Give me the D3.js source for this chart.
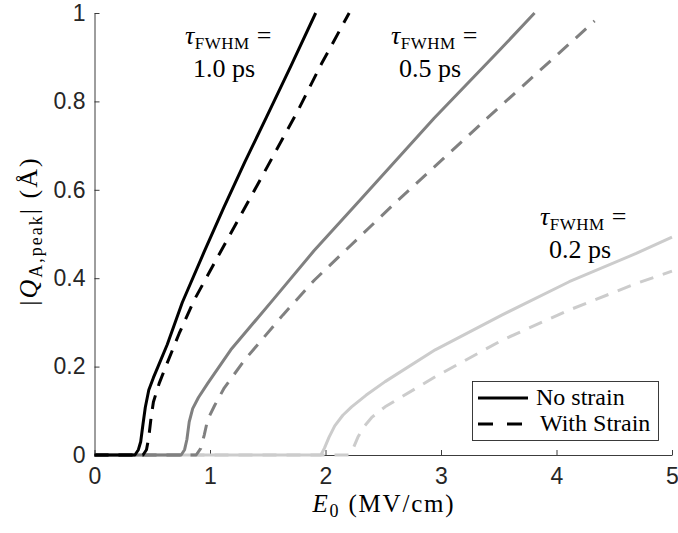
<!DOCTYPE html>
<html>
<head>
<meta charset="utf-8">
<script src="https://cdn.jsdelivr.net/npm/d3@7"></script>
<style>
  body { margin: 0; background: #fff; }
  svg { display: block; }
</style>
</head>
<body>
<script>
// ---------- DATA ----------
const xTicks = [0, 1, 2, 3, 4, 5];
const yTicks = [0, 0.2, 0.4, 0.6, 0.8, 1];
const yTickLabels = ["0", "0.2", "0.4", "0.6", "0.8", "1"];
const legendLabels = ["No strain", "With Strain"];
const pulseLabels = ["1.0 ps", "0.5 ps", "0.2 ps"];

// tau = 1.0 ps
const e10NoStrain = [0, 0.35, 0.38, 0.40, 0.42, 0.44, 0.47, 0.51, 0.55, 0.63, 0.76, 0.95, 1.12, 1.30, 1.49, 1.70, 1.915];
const q10NoStrain = [0, 0, 0.012, 0.03, 0.07, 0.108, 0.147, 0.175, 0.20, 0.25, 0.345, 0.46, 0.56, 0.662, 0.765, 0.88, 1.0];
const e10Strain = [0, 0.42, 0.45, 0.47, 0.49, 0.51, 0.56, 0.617, 0.733, 0.864, 1.05, 1.25, 1.45, 1.763, 1.965, 2.205];
const q10Strain = [0, 0, 0.012, 0.04, 0.085, 0.12, 0.162, 0.20, 0.275, 0.351, 0.44, 0.535, 0.63, 0.78, 0.885, 1.0];
// tau = 0.5 ps
const e05NoStrain = [0, 0.75, 0.78, 0.80, 0.82, 0.85, 0.90, 0.98, 1.18, 1.545, 1.90, 2.30, 2.94, 3.50, 3.81];
const q05NoStrain = [0, 0, 0.012, 0.035, 0.075, 0.105, 0.13, 0.162, 0.238, 0.351, 0.462, 0.577, 0.762, 0.914, 1.0];
const e05Strain = [0, 0.88, 0.92, 0.95, 0.98, 1.04, 1.124, 1.30, 1.632, 1.905, 2.63, 3.40, 4.33];
const q05Strain = [0, 0, 0.015, 0.045, 0.08, 0.112, 0.152, 0.215, 0.317, 0.396, 0.577, 0.762, 0.982];
// tau = 0.2 ps
const e02NoStrain = [0, 1.96, 1.99, 2.03, 2.08, 2.15, 2.226, 2.35, 2.516, 2.95, 3.53, 4.11, 4.69, 5.0];
const q02NoStrain = [0, 0, 0.015, 0.04, 0.066, 0.09, 0.109, 0.135, 0.166, 0.238, 0.317, 0.392, 0.456, 0.493];
const e02Strain = [0, 2.20, 2.24, 2.28, 2.33, 2.40, 2.516, 2.95, 3.53, 4.11, 4.69, 5.0];
const q02Strain = [0, 0, 0.015, 0.04, 0.063, 0.085, 0.109, 0.177, 0.26, 0.328, 0.388, 0.416];

// ---------- SETUP ----------
const W = 678, H = 533;
const SERIF = "Liberation Serif";
const SANS = "Liberation Sans";
const svg = d3.select("body").append("svg").attr("width", W).attr("height", H);
const x = d3.scaleLinear().domain([0, 5]).range([94.5, 672]);
const y = d3.scaleLinear().domain([0, 1]).range([455, 13]);

const colors = { "1.0": "#000000", "0.5": "#808080", "0.2": "#cccccc" };
const dash = "14,10";

const series = [
  { e: e02Strain, q: q02Strain, c: colors["0.2"], dashed: true },
  { e: e02NoStrain, q: q02NoStrain, c: colors["0.2"], dashed: false },
  { e: e05Strain, q: q05Strain, c: colors["0.5"], dashed: true },
  { e: e05NoStrain, q: q05NoStrain, c: colors["0.5"], dashed: false },
  { e: e10Strain, q: q10Strain, c: colors["1.0"], dashed: true },
  { e: e10NoStrain, q: q10NoStrain, c: colors["1.0"], dashed: false }
];

const line = d3.line().x(d => x(d[0])).y(d => y(d[1]));

// ---------- AXES ----------
const axisColor = "#262626";
const xAxis = svg.append("g").attr("transform", `translate(0,${y(0)})`)
  .call(d3.axisBottom(x).tickValues(xTicks).tickFormat(d3.format("d"))
    .tickSizeInner(-5).tickSizeOuter(0).tickPadding(13));
const yAxis = svg.append("g").attr("transform", `translate(${x(0)},0)`)
  .call(d3.axisLeft(y).tickValues(yTicks).tickFormat((d, i) => yTickLabels[i])
    .tickSizeInner(-5).tickSizeOuter(0).tickPadding(9));
[xAxis, yAxis].forEach(g => {
  g.attr("font-family", SANS).attr("font-size", 23);
  g.select(".domain").attr("stroke", axisColor).attr("stroke-width", 0.9);
  g.selectAll(".tick line").attr("stroke", axisColor).attr("stroke-width", 0.9);
  g.selectAll(".tick text").attr("fill", axisColor);
});

// ---------- CURVES ----------
series.forEach(s => {
  svg.append("path")
    .datum(s.e.map((v, i) => [v, s.q[i]]))
    .attr("d", line)
    .attr("fill", "none")
    .attr("stroke", s.c)
    .attr("stroke-width", 3)
    .attr("stroke-linejoin", "round")
    .attr("stroke-dasharray", s.dashed ? dash : null);
});

// ---------- LABELS ----------
// x label
const xl = svg.append("text").attr("font-family", SERIF).attr("x", 384).attr("y", 512)
  .attr("text-anchor", "middle").attr("font-size", 25).attr("letter-spacing", 1.8).attr("fill", "#000");
xl.append("tspan").text("E").attr("font-style", "italic");
xl.append("tspan").text("0").attr("dy", 5).attr("font-size", 18);
xl.append("tspan").text(" (MV/cm)").attr("dy", -5);

// y label
const yl = svg.append("text").attr("font-family", SERIF).attr("transform", "translate(37,231) rotate(-90)")
  .attr("text-anchor", "middle").attr("font-size", 26).attr("letter-spacing", 2).attr("fill", "#000");
yl.append("tspan").text("|");
yl.append("tspan").text("Q").attr("font-style", "italic");
yl.append("tspan").text("A,peak").attr("dy", 5).attr("font-size", 18);
yl.append("tspan").text("| (Å)").attr("dy", -5);

// annotations
const annot = [
  { label: pulseLabels[0], x1: 185, x2: 193, yb: 44 },
  { label: pulseLabels[1], x1: 391, x2: 399, yb: 44 },
  { label: pulseLabels[2], x1: 540, x2: 549, yb: 225 }
];
annot.forEach(a => {
  const t = svg.append("text").attr("font-family", SERIF).attr("x", a.x1).attr("y", a.yb)
    .attr("font-size", 26).attr("letter-spacing", 0.5).attr("fill", "#000");
  t.append("tspan").text("τ").attr("font-style", "italic");
  t.append("tspan").text("FWHM").attr("dy", 5).attr("font-size", 17);
  t.append("tspan").text(" =").attr("dy", -5);
  svg.append("text").attr("font-family", SERIF).attr("x", a.x2).attr("y", a.yb + 33).text(a.label)
    .attr("font-size", 26).attr("fill", "#000");
});

// ---------- LEGEND ----------
const lg = svg.append("g").attr("font-family", SERIF);
lg.append("rect").attr("x", 472.5).attr("y", 381.5).attr("width", 186).attr("height", 59)
  .attr("fill", "#fff").attr("stroke", axisColor).attr("stroke-width", 0.9);
legendLabels.forEach((lab, i) => {
  const ly = 398 + i * 26;
  lg.append("line").attr("x1", 478).attr("x2", i === 0 ? 528 : 522).attr("y1", ly).attr("y2", ly)
    .attr("stroke", "#000").attr("stroke-width", 3)
    .attr("stroke-dasharray", i === 0 ? null : "15,14");
  lg.append("text").attr("font-family", SERIF).attr("x", i === 0 ? 536 : 540).attr("y", ly + 7).text(lab)
    .attr("font-size", 24).attr("fill", "#000");
});
</script>
</body>
</html>
